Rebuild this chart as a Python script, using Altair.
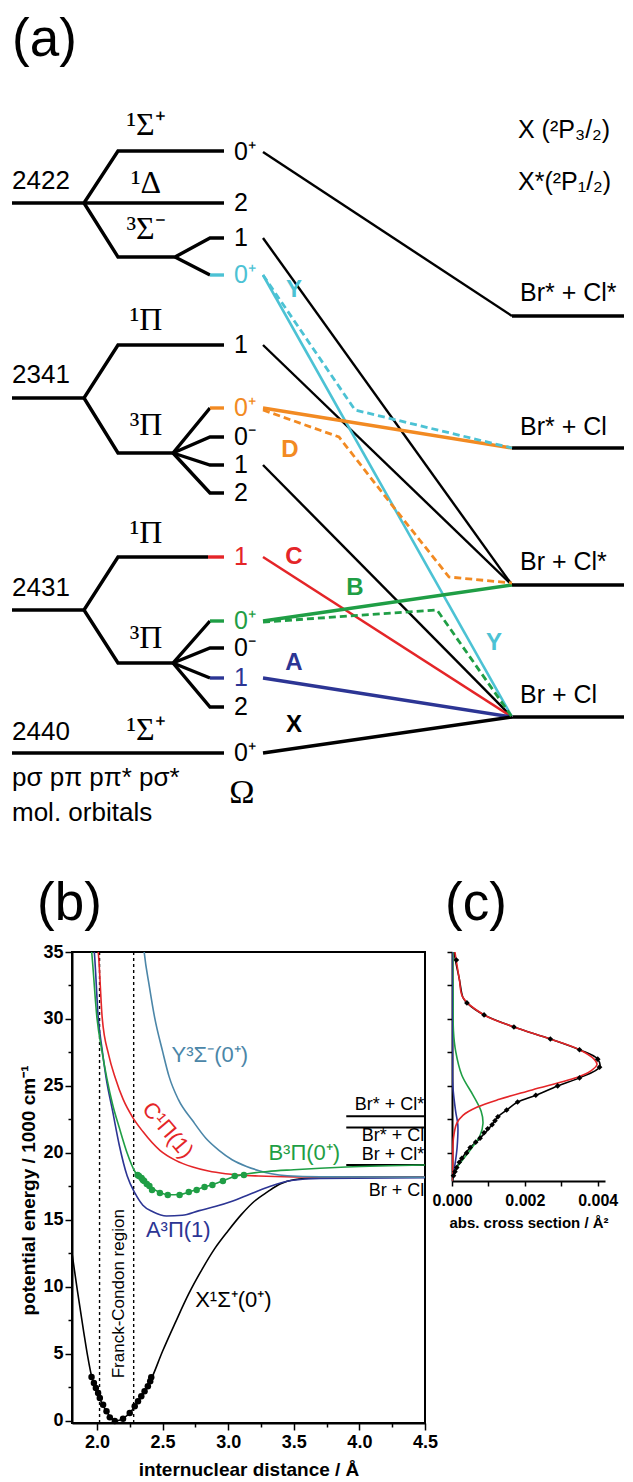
import altair as alt
import pandas as pd

CYAN, ORANGE, RED, GREEN, NAVY, STEEL = "#4cc2d4", "#f28a22", "#e42528", "#1f9e45", "#2c3594", "#4b86a8"
SANS, SERIF = "Liberation Sans", "Liberation Serif"

# ---------------- panel (a): correlation diagram (diagram units, y downwards) ----------------
a_level_paths = [
    ("black", [12, 84, 118, 224], [203, 203, 151, 151]),
    ("black", [84, 224], [203, 203]),
    ("black", [84, 118, 175, 210, 224], [203, 257, 257, 238, 238]),
    ("black", [175, 210], [257, 275]),
    (CYAN, [210, 224], [275, 275]),
    ("black", [12, 84, 118, 224], [398, 398, 345, 345]),
    ("black", [84, 118, 173, 210], [398, 453, 453, 408]),
    (ORANGE, [210, 224], [408, 408]),
    ("black", [173, 210, 224], [453, 437, 437]),
    ("black", [173, 210, 224], [453, 465, 465]),
    ("black", [173, 210, 224], [453, 493, 493]),
    ("black", [12, 84, 118, 208], [610, 610, 557, 557]),
    (RED, [208, 224], [557, 557]),
    ("black", [84, 118, 173, 210], [610, 663, 663, 621]),
    (GREEN, [210, 224], [621, 621]),
    ("black", [173, 210, 224], [663, 648, 648]),
    ("black", [173, 210], [663, 678]),
    (NAVY, [210, 224], [678, 678]),
    ("black", [173, 210, 224], [663, 707, 707]),
    ("black", [12, 224], [753, 753]),
    ("black", [512, 624], [316, 316]),
    ("black", [512, 624], [448, 448]),
    ("black", [512, 624], [585, 585]),
    ("black", [512, 624], [717, 717]),
]
a_corr_solid = [
    ("black", [263, 512], [152, 316], 2.4),
    ("black", [263, 512], [238, 585], 2.4),
    ("black", [263, 512], [345, 585], 2.4),
    ("black", [263, 512], [465, 717], 2.4),
    (CYAN, [263, 512], [275, 717], 2.6),
    (ORANGE, [263, 512], [408, 448], 3.4),
    (RED, [263, 512], [557, 717], 2.6),
    (GREEN, [263, 512], [621, 585], 3.4),
    (NAVY, [263, 512], [678, 717], 3.4),
    ("black", [263, 512], [753, 717], 3.4),
]
a_corr_dashed = [
    (CYAN, [263, 355, 512], [275, 410, 448], 2.8),
    (ORANGE, [263, 339, 388, 449, 512], [410, 437, 500, 577, 583], 2.8),
    (GREEN, [263, 437, 512], [622, 610, 717], 2.8),
]
a_num_text = ["2422", "2341", "2431", "2440"]
a_num_y = [181, 375, 588, 732]
a_term_text = ["¹Σ⁺", "¹Δ", "³Σ⁻", "¹Π", "³Π", "¹Π", "³Π", "¹Σ⁺"]
a_term_y = [125, 183, 229, 320, 425, 533, 638, 730]
a_omega_text = ["0⁺", "2", "1", "0⁺", "1", "0⁺", "0⁻", "1", "2", "1", "0⁺", "0⁻", "1", "2", "0⁺"]
a_omega_y = [152, 203, 238, 275, 345, 408, 437, 465, 493, 557, 621, 648, 678, 707, 753]
a_omega_col = ["black", "black", "black", CYAN, "black", ORANGE, "black", "black", "black",
               RED, GREEN, "black", NAVY, "black", "black"]
a_corr_text = ["Y", "D", "C", "B", "A", "X", "Y"]
a_corr_x = [294, 290, 294, 355, 294, 294, 494]
a_corr_y = [290, 450, 557, 588, 663, 725, 643]
a_corr_col = [CYAN, ORANGE, RED, GREEN, NAVY, "black", CYAN]
a_asym_text = ["X (²P₃/₂)", "X*(²P₁/₂)", "Br* + Cl*", "Br* + Cl", "Br + Cl*", "Br + Cl"]
a_asym_y = [130, 182, 293, 427, 562, 695]
a_misc_text = ["pσ pπ pπ* pσ*", "mol. orbitals"]
a_misc_y = [778, 813]
a_panel_text = ["(a)", "(b)", "(c)"]
a_panel_x = [12, 37, 445]
a_panel_y = [40, 904, 904]

# ---------------- panel (b): potential energy curves ----------------
X_r = [1.80, 1.85, 1.90, 1.93, 1.96, 1.99, 2.02, 2.05, 2.08, 2.11, 2.14, 2.17, 2.20, 2.25, 2.29, 2.34, 2.39,
       2.42, 2.50, 2.60, 2.70, 2.80, 2.90, 3.00, 3.10, 3.20, 3.30, 3.40, 3.50, 3.70, 4.00, 4.50]
X_E = [13.2, 9.8, 6.6, 4.8, 3.3, 2.4, 1.7, 1.1, 0.6, 0.2, 0.0, 0.05, 0.2, 0.6, 1.1, 1.85, 2.6,
       3.25, 5.2, 7.4, 9.5, 11.3, 12.9, 14.2, 15.4, 16.4, 17.1, 17.7, 18.0, 18.15, 18.2, 18.2]
A_r = [1.97, 1.98, 2.01, 2.04, 2.07, 2.12, 2.17, 2.23, 2.29, 2.35, 2.43, 2.53, 2.65, 2.78, 2.90, 3.03,
       3.16, 3.29, 3.48, 3.70, 4.50]
A_E = [36.0, 35.0, 30.1, 27.7, 25.6, 23.1, 20.6, 18.3, 17.0, 16.1, 15.6, 15.3, 15.35, 15.7, 16.0, 16.4,
       16.9, 17.4, 17.95, 18.1, 18.15]
B_r = [1.95, 1.96, 2.00, 2.04, 2.075, 2.12, 2.17, 2.23, 2.29, 2.34, 2.40, 2.48, 2.55, 2.63, 2.70, 2.80,
       2.90, 2.96, 3.05, 3.12, 3.30, 3.50, 3.90, 4.50]
B_E = [36.0, 35.0, 30.1, 27.5, 25.6, 23.6, 21.9, 20.0, 18.6, 18.05, 17.55, 17.05, 16.88, 16.9, 17.08, 17.4,
       17.7, 17.92, 18.25, 18.4, 18.62, 18.75, 18.95, 19.1]
C_r = [1.99, 2.01, 2.04, 2.09, 2.14, 2.20, 2.27, 2.35, 2.48, 2.60, 2.73, 2.85, 2.98, 3.23, 3.50, 4.50]
C_E = [36.0, 35.0, 30.1, 27.3, 25.6, 24.0, 22.7, 21.6, 20.2, 19.45, 18.95, 18.65, 18.45, 18.28, 18.22, 18.2]
Y_r = [2.35, 2.36, 2.40, 2.44, 2.50, 2.55, 2.62, 2.73, 2.83, 2.93, 3.03, 3.14, 3.23, 3.33, 3.45, 3.70, 4.50]
Y_E = [36.0, 35.0, 32.4, 30.1, 27.6, 25.7, 24.0, 22.4, 21.1, 20.2, 19.5, 19.0, 18.7, 18.45, 18.3, 18.22, 18.2]
Xdot_r = [1.959, 1.977, 1.992, 2.009, 2.022, 2.047, 2.073, 2.098, 2.136, 2.199, 2.25, 2.288, 2.313,
          2.338, 2.363, 2.388, 2.406, 2.414]
Xdot_E = [3.28, 2.84, 2.46, 2.09, 1.72, 1.22, 0.72, 0.27, 0.0, 0.17, 0.6, 1.1, 1.47, 1.84, 2.22, 2.59,
          2.96, 3.26]
Bdot_r = [2.31, 2.32, 2.34, 2.35, 2.36, 2.38, 2.40, 2.42, 2.48, 2.54, 2.63, 2.70, 2.76, 2.82, 2.88, 2.96,
          3.05, 3.12]
Bdot_E = [18.36, 18.28, 18.13, 17.99, 17.91, 17.69, 17.54, 17.24, 17.01, 16.87, 16.87, 17.09, 17.24,
          17.46, 17.61, 17.91, 18.28, 18.36]
fc_r = [2.02, 2.28]
thr_E = [22.75, 21.9, 19.1, 18.2]
thr_r = [3.9, 4.5]
thr_text = ["Br* + Cl*", "Br* + Cl", "Br + Cl*", "Br + Cl"]
thr_text_E = [23.6, 21.3, 19.85, 17.15]
lab_text = ["Y³Σ⁻(0⁺)", "B³Π(0⁺)", "A³Π(1)", "X¹Σ⁺(0⁺)"]
lab_r = [2.86, 3.58, 2.62, 3.04]
lab_E = [27.3, 20.0, 14.25, 9.0]
lab_col = [STEEL, GREEN, NAVY, "black"]

# ---------------- panel (c): absorption cross sections ----------------
tot_E = [35.0, 34.3, 33.0, 31.6, 31.2, 30.3, 29.4, 28.5, 27.7, 27.0, 26.4, 25.6, 25.0, 24.3, 23.8, 23.2,
         22.7, 22.1, 21.1, 20.4, 19.6, 18.9, 18.1, 17.9]
tot_cs = [0.00006, 0.0001, 0.0002, 0.0003, 0.00041, 0.00088, 0.0017, 0.0027, 0.0035, 0.0040, 0.00405,
          0.0035, 0.0029, 0.0023, 0.0018, 0.0015, 0.00126, 0.0011, 0.00077, 0.0005, 0.00027, 0.00013,
          0.00003, 0.0]
dot_E = [34.4, 31.2, 30.3, 29.4, 28.5, 27.7, 27.0, 26.4, 25.6, 25.0, 24.3, 23.8, 23.2, 22.7, 22.4, 22.1,
         21.8, 21.5, 21.1, 20.8, 20.4, 20.0, 19.6, 19.3, 18.9, 18.6, 18.3]
dot_cs = [0.00012, 0.00041, 0.00088, 0.0017, 0.0027, 0.0035, 0.0040, 0.00405, 0.0035, 0.0029, 0.0023,
          0.0018, 0.0015, 0.00126, 0.00118, 0.0011, 0.00098, 0.00088, 0.00077, 0.00065, 0.0005, 0.0004,
          0.00027, 0.0002, 0.00013, 0.00008, 0.00004]
red_E = [35.0, 33.0, 31.6, 30.3, 29.4, 28.5, 27.7, 27.0, 26.6, 26.1, 25.7, 24.7, 24.0, 23.4, 22.8, 22.2,
         21.1, 19.1, 17.9]
red_cs = [0.00008, 0.0002, 0.0003, 0.00088, 0.0017, 0.0027, 0.0035, 0.0039, 0.00398, 0.0038, 0.0035,
          0.0022, 0.0013, 0.00068, 0.0003, 0.00013, 0.00004, 0.00002, 0.0]
grn_E = [35.0, 31.6, 29.1, 27.6, 25.8, 24.3, 23.1, 22.2, 21.3, 20.4, 19.5, 18.9, 17.9]
grn_cs = [0.00002, 0.00003, 0.00004, 0.0001, 0.00027, 0.00058, 0.0008, 0.00085, 0.00077, 0.00055,
          0.0003, 0.00013, 0.0]
blu_E = [35.0, 27.0, 25.1, 23.1, 22.1, 20.4, 19.1, 17.9]
blu_cs = [0.0, 0.00001, 0.00002, 0.0001, 0.00016, 0.00014, 0.00008, 0.0]


# ================= build panel (a) =================
def path_frame(paths, default_w=3.4):
    rows = []
    for pid, p in enumerate(paths):
        col, xs, ys = p[0], p[1], p[2]
        w = p[3] if len(p) > 3 else default_w
        for k, (x, y) in enumerate(zip(xs, ys)):
            rows.append({"pid": pid, "seq": k, "x": x, "y": y, "col": col, "w": w})
    return pd.DataFrame(rows)


AX = alt.X("x:Q", scale=alt.Scale(domain=[72, 633], nice=False, zero=False), axis=None)
AY = alt.Y("y:Q", scale=alt.Scale(domain=[0, 952], nice=False, zero=False, reverse=True), axis=None)


def a_lines(df, dash=None):
    kw = dict(strokeCap="butt", strokeJoin="miter")
    if dash:
        kw["strokeDash"] = dash
    return alt.Chart(df).mark_line(**kw).encode(
        x=AX, y=AY, detail="pid:N", order="seq:Q",
        color=alt.Color("col:N", scale=None), strokeWidth=alt.StrokeWidth("w:Q", scale=None))


def a_text(texts, xs, ys, cols, size, font=SANS, weight="normal", align="left"):
    df = pd.DataFrame({"t": texts, "x": xs, "y": ys, "c": cols})
    return alt.Chart(df).mark_text(font=font, fontSize=size, fontWeight=weight, align=align,
                                   baseline="middle").encode(
        x=AX, y=AY, text="t:N", color=alt.Color("c:N", scale=None))


guard = alt.Chart(pd.DataFrame({"g": [0]})).mark_rule(strokeOpacity=0).encode(
    x=alt.value(-72), x2=alt.value(561), y=alt.value(0))

panel_a = alt.layer(
    guard,
    a_lines(path_frame(a_level_paths)),
    a_lines(path_frame(a_corr_solid)),
    a_lines(path_frame(a_corr_dashed), dash=[7, 4]),
    a_text(a_num_text, [12] * 4, a_num_y, ["black"] * 4, 26),
    a_text(a_term_text, [146] * len(a_term_text), a_term_y, ["black"] * len(a_term_text), 32,
           font=SERIF, align="center"),
    a_text(a_omega_text, [234] * len(a_omega_text), a_omega_y, a_omega_col, 25),
    a_text(a_corr_text, a_corr_x, a_corr_y, a_corr_col, 24, weight="bold", align="center"),
    a_text(a_asym_text, [518] * 2 + [520] * 4, a_asym_y, ["black"] * 6, 25),
    a_text(a_misc_text, [12, 12], a_misc_y, ["black"] * 2, 26),
    a_text(["Ω"], [242], [793], ["black"], 34, font=SERIF, align="center"),
    a_text(a_panel_text, a_panel_x, a_panel_y, ["black"] * 3, 53),
).properties(width=561, height=952)

# ================= build panel (b) =================
bx_vals = [2.0 + 0.25 * i for i in range(11)]
by_vals = [2.5 * i for i in range(15)]
BX = alt.X("r:Q", scale=alt.Scale(domain=[1.81, 4.5], nice=False, zero=False),
           axis=alt.Axis(values=bx_vals, grid=False, labelFlush=False,
                         labelExpr="datum.value % 0.5 === 0 ? format(datum.value, '.1f') : ''",
                         tickSize={"condition": {"test": "datum.value % 0.5 === 0", "value": 7}, "value": 4},
                         tickColor="black", tickWidth=1.5, domainColor="black", domainWidth=2,
                         labelFont=SANS, labelFontSize=18, labelFontWeight="bold", labelColor="black",
                         labelPadding=3, titleFont=SANS, titleFontSize=19, titleFontWeight="bold",
                         titleColor="black", titlePadding=9),
           title="internuclear distance  /  Å")
BY = alt.Y("E:Q", scale=alt.Scale(domain=[-0.15, 35], nice=False, zero=False),
           axis=alt.Axis(values=by_vals, grid=False, labelFlush=False,
                         labelExpr="datum.value % 5 === 0 ? datum.label : ''",
                         tickSize={"condition": {"test": "datum.value % 5 === 0", "value": 7}, "value": 4},
                         tickColor="black", tickWidth=1.5, domainColor="black", domainWidth=2,
                         labelFont=SANS, labelFontSize=18, labelFontWeight="bold", labelColor="black",
                         labelPadding=2, titleFont=SANS, titleFontSize=19, titleFontWeight="bold",
                         titleColor="black", titleX=-44, titleY=238, titleAngle=270,
                         titleAlign="center", titleBaseline="middle"),
           title="potential energy  /  1000 cm⁻¹")


def curve_frame():
    rows = []
    for name, rs, es, col in [("X", X_r, X_E, "black"), ("A", A_r, A_E, NAVY), ("C", C_r, C_E, RED),
                              ("Y", Y_r, Y_E, STEEL), ("B", B_r, B_E, GREEN)]:
        for r, e in zip(rs, es):
            rows.append({"state": name, "r": r, "E": e, "col": col})
    return pd.DataFrame(rows)


dots_b = pd.DataFrame({"r": Xdot_r + Bdot_r, "E": Xdot_E + Bdot_E,
                       "col": ["black"] * len(Xdot_r) + [GREEN] * len(Bdot_r)})
thr_df = pd.DataFrame({"r": [thr_r[0]] * 4, "r2": [thr_r[1]] * 4, "E": thr_E})
thr_lab = pd.DataFrame({"r": [4.495] * 4, "E": thr_text_E, "t": thr_text})
lab_df = pd.DataFrame({"r": lab_r, "E": lab_E, "t": lab_text, "c": lab_col})

panel_b = alt.layer(
    alt.Chart(pd.DataFrame({"r": fc_r})).mark_rule(strokeDash=[3, 3], strokeWidth=1.4, color="black").encode(x=BX),
    alt.Chart(thr_df).mark_rule(strokeWidth=2, color="black").encode(x=BX, x2="r2:Q", y=BY),
    alt.Chart(curve_frame()).mark_line(interpolate="monotone", strokeWidth=1.6, clip=True).encode(
        x=BX, y=BY, detail="state:N", color=alt.Color("col:N", scale=None)),
    alt.Chart(dots_b).mark_circle(size=42, opacity=1).encode(x=BX, y=BY, color=alt.Color("col:N", scale=None)),
    alt.Chart(thr_lab).mark_text(align="right", baseline="middle", font=SANS, fontSize=18, color="black").encode(
        x=BX, y=BY, text="t:N"),
    alt.Chart(lab_df).mark_text(align="center", baseline="middle", font=SANS, fontSize=22).encode(
        x=BX, y=BY, text="t:N", color=alt.Color("c:N", scale=None)),
    alt.Chart(pd.DataFrame({"r": [2.54], "E": [21.7], "t": ["C¹Π(1)"]})).mark_text(
        align="center", baseline="middle", font=SANS, fontSize=22, angle=50, color=RED).encode(
        x=BX, y=BY, text="t:N"),
    alt.Chart(pd.DataFrame({"r": [2.165], "E": [9.5], "t": ["Franck-Condon region"]})).mark_text(
        align="center", baseline="middle", font=SANS, fontSize=17, angle=270, color="black").encode(
        x=BX, y=BY, text="t:N"),
).properties(width=353, height=471, view=alt.ViewBackground(stroke="black", strokeWidth=2))

# ================= build panel (c) =================
CX = alt.X("cs:Q", scale=alt.Scale(domain=[0, 0.0042], nice=False, zero=False),
           axis=alt.Axis(values=[0, 0.001, 0.002, 0.003, 0.004], grid=False, labelFlush=False,
                         labelExpr="round(datum.value * 1000) % 2 === 0 ? format(datum.value, '.3f') : ''",
                         tickSize=5, tickColor="black", tickWidth=1.5, domainColor="black", domainWidth=2,
                         labelFont=SANS, labelFontSize=16, labelFontWeight="bold", labelColor="black",
                         labelPadding=6, titleFont=SANS, titleFontSize=15, titleFontWeight="bold",
                         titleColor="black", titlePadding=7),
           title="abs. cross section  /  Å²")
CY = alt.Y("E:Q", scale=alt.Scale(domain=[17.9, 35], nice=False, zero=False),
           axis=alt.Axis(values=[20, 22.5, 25, 27.5, 30, 32.5, 35], labels=False, grid=False, tickSize=5,
                         tickColor="black", tickWidth=1.5, domainColor="black", domainWidth=2),
           title="")


def spec_frame():
    rows = []
    for name, es, cs, col in [("tot", tot_E, tot_cs, "black"), ("B", grn_E, grn_cs, GREEN),
                              ("A", blu_E, blu_cs, NAVY), ("C", red_E, red_cs, RED)]:
        for k, (e, c) in enumerate(zip(es, cs)):
            rows.append({"series": name, "seq": k, "E": e, "cs": c, "col": col})
    return pd.DataFrame(rows)


panel_c = alt.layer(
    alt.Chart(spec_frame()).mark_line(interpolate="catmull-rom", strokeWidth=1.6, clip=True).encode(
        x=CX, y=CY, order="seq:Q", detail="series:N", color=alt.Color("col:N", scale=None)),
    alt.Chart(pd.DataFrame({"cs": dot_cs, "E": dot_E})).mark_point(
        shape="diamond", filled=True, size=32, color="black", opacity=1).encode(x=CX, y=CY),
).properties(width=153, height=229)

row = alt.hconcat(panel_b, panel_c, spacing=27, bounds="flush")
chart = alt.vconcat(panel_a, row, spacing=0, bounds="flush").properties(
    padding={"left": 0, "top": 0, "right": 0, "bottom": 0}
).configure_view(strokeWidth=0)

chart.save("out.html", embed_options={"renderer": "svg", "actions": False})
